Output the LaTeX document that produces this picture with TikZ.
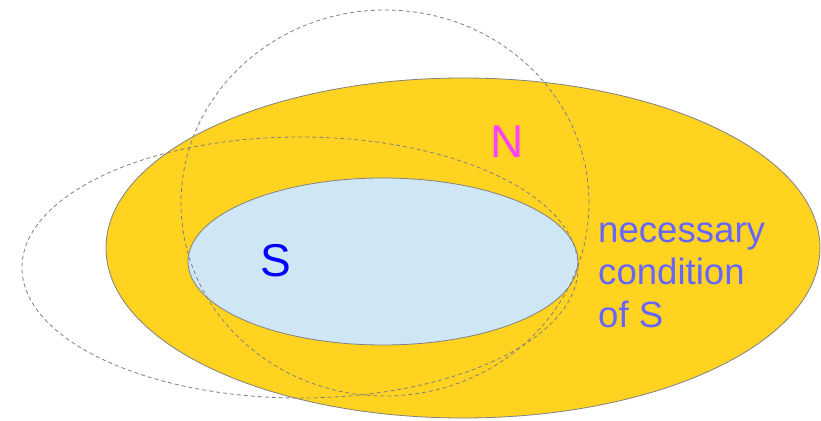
\documentclass[tikz,border=0pt]{standalone}
\usepackage{fontspec}
\setmainfont{Liberation Sans}
\definecolor{nyellow}{HTML}{FFD320}
\definecolor{sblue}{HTML}{CFE7F5}
\definecolor{edgegray}{HTML}{808080}
\definecolor{txtblue}{HTML}{6666FF}
\definecolor{nmag}{HTML}{FF40FF}
\tikzset{
  setshape/.style={draw=edgegray, line width=0.8pt},
  dashshape/.style={draw=edgegray, line width=0.8pt, dash pattern=on 4pt off 3pt},
  biglabel/.style={font=\fontsize{46}{50}\selectfont, inner sep=0pt, anchor=base},
  desc/.style={font=\fontsize{36.6}{42}\selectfont, text=txtblue, inner sep=0pt, anchor=base west}
}
\begin{document}
\begin{tikzpicture}[x=1pt,y=1pt]
\useasboundingbox (0,0) rectangle (821,420);
\path[setshape, fill=nyellow] (463,172) ellipse [x radius=357, y radius=170];
\path[setshape, fill=sblue] (383,158.5) ellipse [x radius=195, y radius=83.5];
\path[dashshape] (385,217) ellipse [x radius=204, y radius=193];
\path[dashshape] (300,152.5) ellipse [x radius=278, y radius=130.5];
\node[biglabel, text=blue] (S) at (276,143) {S};
\node[biglabel, text=nmag] (N) at (507,262) {N};
\node[desc] (d1) at (598,177) {necessary};
\node[desc] (d2) at (598,135) {condition};
\node[desc] (d3) at (598,92) {of S};
\end{tikzpicture}
\end{document}
